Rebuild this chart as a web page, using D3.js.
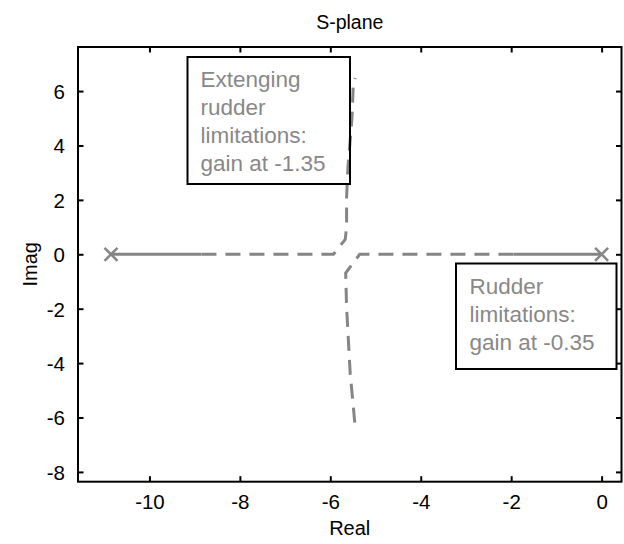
<!DOCTYPE html>
<html><head><meta charset="utf-8">
<script src="https://cdn.jsdelivr.net/npm/d3@7/dist/d3.min.js"></script>
<style>body{margin:0;background:#fff;} svg{display:block;}</style>
</head><body>
<script>
// ---- data ----
const xTicks = [-10, -8, -6, -4, -2, 0];
const yTicks = [-8, -6, -4, -2, 0, 2, 4, 6];
const polesReal = [-10.85, 0];
const polesImag = [0, 0];
const solidLeftReal = [-10.85, -8.85];
const solidLeftImag = [0, 0];
const solidRightReal = [-1.95, 0];
const solidRightImag = [0, 0];
const upperReal = [-8.85, -5.93, -5.67, -5.64, -5.64, -5.61, -5.56, -5.52, -5.49, -5.45];
const upperImag = [0, 0, 0.55, 1.0, 2.1, 3.2, 4.2, 5.05, 6.3, 6.48];
const lowerReal = [-1.95, -5.35, -5.66, -5.64, -5.60, -5.56, -5.49, -5.45];
const lowerImag = [0, 0, -0.69, -1.94, -3.16, -4.38, -5.62, -6.35];
const note1 = ["Extenging", "rudder", "limitations:", "gain at -1.35"];
const note2 = ["Rudder", "limitations:", "gain at -0.35"];

const W = 624, H = 544;
const L = 78, R = 621.5, T = 47, B = 481.7;
const x = d3.scaleLinear().domain([-11.58, 0.44]).range([L, R]);
const y = d3.scaleLinear().domain([-8.36, 7.62]).range([B, T]);
const FONT = "Arial, 'Liberation Sans', sans-serif";

const svg = d3.select("body").append("svg").attr("width", W).attr("height", H)
  .style("font-family", FONT);

const zip = (a, b) => a.map((v, i) => [v, b[i]]);
const line = d3.line().x(d => x(d[0])).y(d => y(d[1]));
const grey = "#858585";

// locus
svg.append("path").attr("d", line(zip(solidLeftReal, solidLeftImag)))
  .attr("fill", "none").attr("stroke", grey).attr("stroke-width", 3);
svg.append("path").attr("d", line(zip(solidRightReal, solidRightImag)))
  .attr("fill", "none").attr("stroke", grey).attr("stroke-width", 3);
svg.append("path").attr("d", line(zip(upperReal, upperImag)))
  .attr("fill", "none").attr("stroke", grey).attr("stroke-width", 3)
  .attr("stroke-dasharray", "15,9");
svg.append("path").attr("d", line(zip(lowerReal, lowerImag)))
  .attr("fill", "none").attr("stroke", grey).attr("stroke-width", 3)
  .attr("stroke-dasharray", "15,9");

// pole markers
const poles = zip(polesReal, polesImag);
const s = 6.5;
svg.selectAll("g.pole").data(poles).join("g").attr("class", "pole")
  .attr("transform", d => `translate(${x(d[0])},${y(d[1])})`)
  .each(function () {
    const g = d3.select(this);
    g.append("line").attr("x1", -s).attr("y1", -s).attr("x2", s).attr("y2", s);
    g.append("line").attr("x1", -s).attr("y1", s).attr("x2", s).attr("y2", -s);
  })
  .attr("stroke", grey).attr("stroke-width", 2.5);

// axes box with inward ticks
const tl = 5.5;
const fmt = d => String(d);
const axB = svg.append("g").attr("transform", `translate(0,${B})`)
  .call(d3.axisBottom(x).tickValues(xTicks).tickSize(-tl).tickPadding(12).tickFormat(fmt));
const axT = svg.append("g").attr("transform", `translate(0,${T})`)
  .call(d3.axisTop(x).tickValues(xTicks).tickSize(-tl).tickFormat(""));
const axL = svg.append("g").attr("transform", `translate(${L},0)`)
  .call(d3.axisLeft(y).tickValues(yTicks).tickSize(-tl).tickPadding(13).tickFormat(fmt));
const axRr = svg.append("g").attr("transform", `translate(${R},0)`)
  .call(d3.axisRight(y).tickValues(yTicks).tickSize(-tl).tickFormat(""));
[axB, axT, axL, axRr].forEach(a => {
  a.select(".domain").remove();
  a.selectAll(".tick line").attr("stroke", "#000").attr("stroke-width", 2);
  a.selectAll("text").attr("font-size", 20.5).attr("fill", "#000")
    .style("font-family", FONT);
});
axB.selectAll(".tick text").attr("dy", null).attr("y", 27);
axL.selectAll(".tick text").attr("dy", "0.36em");

// plot frame
svg.append("rect").attr("x", L).attr("y", T).attr("width", R - L).attr("height", B - T)
  .attr("fill", "none").attr("stroke", "#000").attr("stroke-width", 2);

// titles
svg.append("text").attr("x", (L + R) / 2).attr("y", 29).attr("text-anchor", "middle")
  .attr("font-size", 19.5).text("S-plane");
svg.append("text").attr("x", (L + R) / 2).attr("y", 535).attr("text-anchor", "middle")
  .attr("font-size", 20).text("Real");
svg.append("text").attr("transform", `translate(37,${(T + B) / 2}) rotate(-90)`)
  .attr("text-anchor", "middle").attr("font-size", 20).text("Imag");

// annotation boxes
function note(lines, bx, by, bw, bh, tx, ty0) {
  svg.append("rect").attr("x", bx).attr("y", by).attr("width", bw).attr("height", bh)
    .attr("fill", "none").attr("stroke", "#000").attr("stroke-width", 2);
  svg.append("g").selectAll("text").data(lines).join("text")
    .attr("x", tx).attr("y", (d, i) => ty0 + i * 28.2)
    .attr("font-size", 22.5).attr("fill", "#888").text(d => d);
}
note(note1, 187.5, 57, 162.5, 127, 200.5, 86.5);
note(note2, 456, 263.5, 160.5, 105.5, 469.5, 293.5);
</script>
</body></html>
